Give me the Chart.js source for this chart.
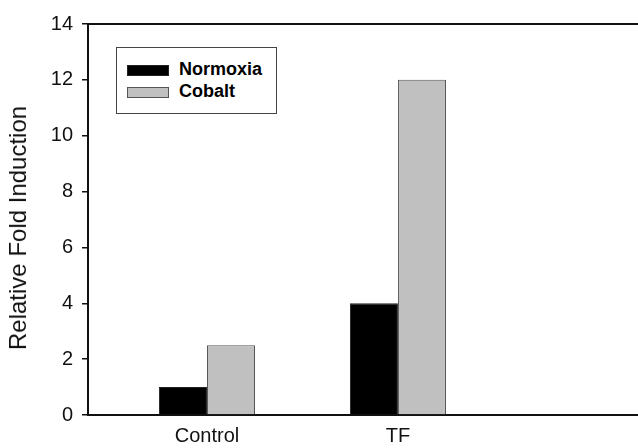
<!DOCTYPE html>
<html>
<head>
<meta charset="utf-8">
<script src="https://cdn.jsdelivr.net/npm/chart.js@4/dist/chart.umd.min.js"></script>
<style>
    body { margin: 0; background: #fff; }
    #wrap { position: relative; width: 638px; height: 448px; }
    #legend {
        position: absolute; left: 116px; top: 47px; width: 159px; height: 65px;
        border: 1px solid #444; background: #fff;
        font-family: "Liberation Sans", Arial, sans-serif; font-weight: bold; font-size: 18px; color: #000;
    }
    .row { position: absolute; left: 10px; height: 20px; line-height: 20px; }
    .sw { display: inline-block; width: 42px; height: 11px; vertical-align: middle; margin-right: 10px; box-sizing: border-box; }
    #ytitle {
        position: absolute; left: 18px; top: 228px; transform: translate(-50%, -50%) rotate(-90deg);
        white-space: nowrap; font-family: "Liberation Sans", Arial, sans-serif; font-size: 24px; color: #111;
    }
</style>
</head>
<body>
<div id="wrap">
    <canvas id="chart"></canvas>
    <div id="ytitle">Relative Fold Induction</div>
    <div id="legend">
        <div class="row" style="top: 11px;"><span class="sw" style="background:#000;border:1px solid #222;"></span>Normoxia</div>
        <div class="row" style="top: 33px;"><span class="sw" style="background:#c0c0c0;border:1px solid #555;"></span>Cobalt</div>
    </div>
</div>
<script>
const categories = ['Control', 'TF'];
const normoxia = [1, 4];
const cobalt = [2.5, 12];
const yTicks = [0, 2, 4, 6, 8, 10, 12, 14];

const font = "'Liberation Sans', Arial, sans-serif";

const toPoints = function(values) {
    return values.map(function(v, i) { return {x: i + 1, y: v}; });
};

const config = {
    type: 'bar',
    data: {
        datasets: [
            {
                label: 'Normoxia',
                data: toPoints(normoxia),
                backgroundColor: '#000000',
                borderColor: '#222222',
                borderWidth: 1
            },
            {
                label: 'Cobalt',
                data: toPoints(cobalt),
                backgroundColor: '#c0c0c0',
                borderColor: '#555555',
                borderWidth: 1
            }
        ]
    },
    options: {
        responsive: true,
        maintainAspectRatio: false,
        animation: false,
        layout: {padding: {top: 24, left: 0, right: 0, bottom: 0}},
        datasets: {bar: {barPercentage: 1, categoryPercentage: 0.503}},
        scales: {
            x: {
                type: 'linear',
                position: 'bottom',
                offset: false,
                min: 0.377,
                max: 3.257,
                afterBuildTicks: function(scale) {
                    scale.ticks = categories.map(function(c, i) { return {value: i + 1}; });
                },
                afterFit: function(scale) { scale.height = 33; },
                ticks: {
                    callback: function(value) { return categories[value - 1]; },
                    font: {family: font, size: 20},
                    color: '#111',
                    padding: 9,
                    maxRotation: 0
                },
                grid: {display: false, drawTicks: false, offset: false},
                border: {display: true, color: '#111', width: 2}
            },
            x2: {
                type: 'linear',
                position: 'top',
                ticks: {display: false},
                grid: {display: false, drawTicks: false},
                afterFit: function(scale) { scale.height = 0; },
                border: {display: true, color: '#111', width: 2}
            },
            y: {
                min: 0,
                max: 14,
                afterBuildTicks: function(scale) {
                    scale.ticks = yTicks.map(function(v) { return {value: v}; });
                },
                afterFit: function(scale) { scale.width = 88; },
                ticks: {
                    font: {family: font, size: 20},
                    color: '#111',
                    padding: 9
                },
                grid: {drawOnChartArea: false, drawTicks: true, tickLength: 6, color: '#111', lineWidth: 1.5},
                border: {display: true, color: '#111', width: 2}
            }
        },
        plugins: {
            legend: {display: false},
            tooltip: {enabled: false}
        }
    }
};

new Chart(document.getElementById('chart'), config);
</script>
</body>
</html>
